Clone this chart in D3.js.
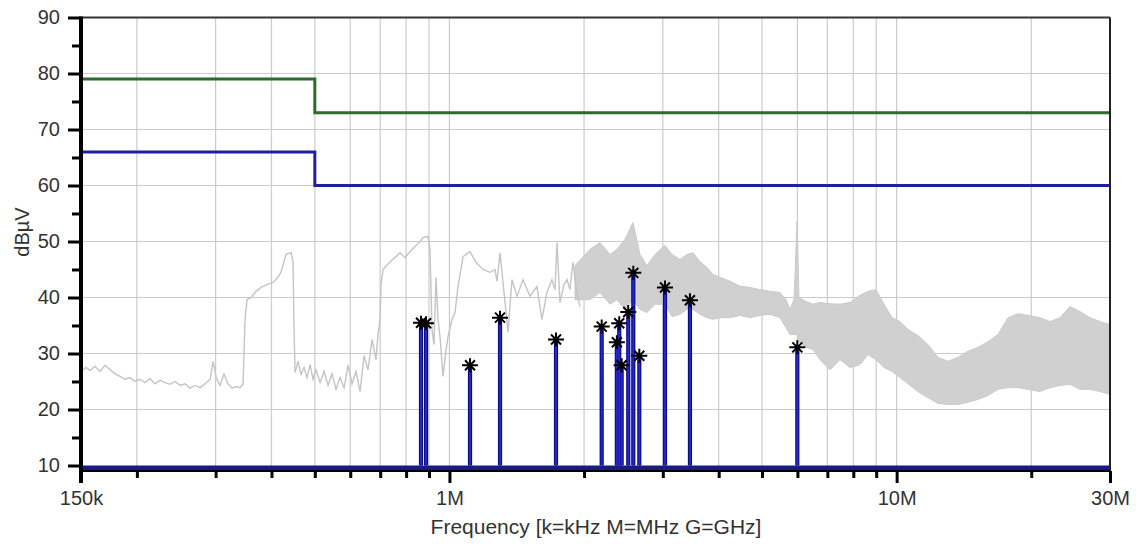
<!DOCTYPE html>
<html>
<head>
<meta charset="utf-8">
<script src="https://cdn.jsdelivr.net/npm/d3@7/dist/d3.min.js"></script>
<style>
html,body{margin:0;padding:0;background:#fff;}
svg{display:block;}
text{font-family:"Liberation Sans",Arial,sans-serif;fill:#333;}
</style>
</head>
<body>
<svg id="chart" width="1136" height="546"></svg>
<script>
// ---------- data (frequencies in kHz, levels in dBµV) ----------
const majorTicksKHz = [150, 1000, 10000, 30000];
const majorTickLabels = ["150k", "1M", "10M", "30M"];
const minorTicksKHz = [200,300,400,500,600,700,800,900,2000,3000,4000,5000,6000,7000,8000,9000,20000];
const levelTicks = [10,20,30,40,50,60,70,80,90];
const levelMinorTicks = [15,25,35,45,55,65,75,85];

// limit lines
const limitFreqKHz = [150, 500, 500, 30000];
const limitQuasiPeak = [79, 79, 73, 73];
const limitAverage = [66, 66, 60, 60];

// measured trace, low-frequency part (single line)
const traceFreqKHz = [150,153.9,157.1,161.2,165.4,169.7,174.2,178.7,183.4,188.2,193.1,198.1,203.3,208.6,214.0,219.6,225.4,231.3,237.3,243.5,249.8,256.4,263.1,269.9,277.0,284.2,291.6,296.2,300.8,306.8,313.2,319.7,326.4,333.3,340.2,345.5,349.1,352.7,360.0,369.4,379.0,390.9,403.2,413.7,420.2,426.7,431.1,442.4,446.9,449.3,451.6,458.6,465.8,473.0,480.4,487.9,495.5,503.2,513.7,524.3,535.2,546.4,557.7,569.3,581.2,593.3,605.6,618.2,631.1,644.2,657.6,671.3,685.2,692.3,699.5,703.1,710.4,736.5,759.6,775.4,795.6,816.3,841.9,859.4,872.8,895.5,904.8,914.1,923.6,933.2,942.8,952.6,967.4,982.5,992.7,1013.3,1029.1,1045.1,1072.4,1111.7,1146.6,1188.7,1232.3,1264.5,1277.5,1297.4,1317.6,1352.0,1379.8,1416.2,1460.5,1514,1569,1610,1652,1695,1722,1740,1767,1804,1832,1860,1889,1929,1959];
const traceLevel = [26.8,27.5,27.0,27.7,26.8,27.9,27.1,26.4,25.9,25.4,25.7,25.0,25.4,24.8,25.5,24.6,25.2,24.8,24.5,25.0,24.3,24.6,23.8,24.3,23.9,24.6,25.4,28.6,25.7,24.3,26.3,24.6,23.8,24.1,23.9,24.5,36.1,39.6,40.0,41.1,41.8,42.3,42.7,43.6,44.6,46.4,47.7,48.0,46.4,34.3,26.6,28.6,26.3,27.5,25.7,28.0,25.4,27.1,24.8,26.8,24.3,26.4,23.6,25.7,23.9,27.9,24.6,26.8,23.2,29.6,27.1,32.5,28.9,33.4,36.1,42.3,45.0,46.4,47.3,48.0,47.1,48.2,49.3,50.0,50.7,50.9,48.6,34.3,31.6,43.6,36.1,33.0,25.9,30.7,33.0,36.1,37.3,42.0,47.3,48.2,46.3,45.0,44.5,45.0,42.9,48.0,42.7,33.8,43.2,40.2,43.2,40.2,42.0,36.1,40.9,43.2,41.4,49.8,39.1,42.3,43.2,41.4,46.3,40.5,38.4];

// measured trace, high-frequency part (dense noise band: upper / lower envelope)
const bandFreqKHz = [1909,2062,2171,2286,2369,2469,2573,2667,2765,2882,3034,3145,3278,3398,3504,3633,3766,3884,4028,4241,4465,4700,4948,5210,5485,5657,5774,5895,5990,6049,6271,6501,6740,7096,7471,7866,8281,8630,8993,9372,9766,10177,10605,11158,11751,12375,13027,13714,14438,15202,16005,16851,17742,18678,19665,20918,22022,23186,24411,25701,27059,28488,30000];
const bandUpper = [45.7,48.6,49.8,47.7,48.6,50.4,53.4,47.7,45.7,47.7,49.3,47.7,46.8,47.7,48.0,46.4,45.4,44.1,43.6,42.9,42.0,41.8,41.4,41.1,40.9,39.6,37.9,39.6,53.6,40.0,39.3,38.8,39.1,38.9,38.8,39.1,40.4,41.1,41.4,38.8,36.4,35.7,34.3,33.2,31.6,29.3,28.6,29.3,30.4,31.1,32.1,33.4,36.4,37.1,36.8,36.4,35.7,36.4,38.4,37.5,36.4,35.7,35.2];
const bandLower = [39.6,39.6,40.9,38.8,39.6,37.9,39.6,37.9,37.3,38.8,38.8,36.6,37.0,37.9,37.9,37.0,36.4,36.1,36.4,36.4,36.8,36.4,36.8,37.0,36.4,34.6,33.4,33.4,33.4,32.1,31.1,30.7,28.9,27.1,28.9,27.5,28.0,29.8,28.9,27.5,26.8,25.7,24.6,23.2,22.1,21.1,20.9,20.9,21.3,21.8,22.5,23.6,23.9,23.9,23.6,23.2,23.9,24.3,24.5,23.6,23.6,23.2,22.7];

// final measurement markers
const markerFreqKHz = [863.8,886.5,1111.7,1297.4,1731,2190,2368,2397,2427,2511,2577,2658,3034,3450,5997];
const markerLevel = [35.5,35.4,27.9,36.4,32.5,34.8,32.0,35.4,27.9,37.4,44.4,29.6,41.8,39.5,31.1];
const stemBase = 10;

// ---------- drawing ----------
const svg = d3.select("#chart");
const L = 81, R = 1110, T = 17.5, B = 465.5, AX = 471;

const x = d3.scaleLog().domain([150e3, 30e6]).range([L, R]);
const y = d3.scaleLinear().domain([10, 90]).range([B, T]);
const fx = k => x(k * 1e3);

// gridlines
const grid = svg.append("g");
grid.selectAll("line.v").data(minorTicksKHz.concat([1000, 10000])).enter().append("line")
  .attr("x1", d => fx(d)).attr("x2", d => fx(d)).attr("y1", T).attr("y2", AX)
  .attr("stroke", "#cbcbcb").attr("stroke-width", 1.2);
grid.selectAll("line.h").data(levelTicks.filter(d => d > 10 && d < 90)).enter().append("line")
  .attr("x1", L).attr("x2", R).attr("y1", d => y(d)).attr("y2", d => y(d))
  .attr("stroke", "#cbcbcb").attr("stroke-width", 1.2);

// noise band
const band = bandFreqKHz.map((f, i) => ({f, hi: bandUpper[i], lo: bandLower[i]}));
svg.append("path").datum(band)
  .attr("d", d3.area().x(d => fx(d.f)).y0(d => y(d.lo)).y1(d => y(d.hi)))
  .attr("fill", "#d0d0d0").attr("stroke", "#cacaca").attr("stroke-width", 1);

// trace line
const trace = traceFreqKHz.map((f, i) => ({f, v: traceLevel[i]}));
svg.append("path").datum(trace)
  .attr("d", d3.line().x(d => fx(d.f)).y(d => y(d.v)))
  .attr("fill", "none").attr("stroke", "#c4c4c4").attr("stroke-width", 1.4);

// limit lines
const lim = (arr) => limitFreqKHz.map((f, i) => ({f, v: arr[i]}));
const limLine = d3.line().x(d => fx(d.f)).y(d => y(d.v));
svg.append("path").datum(lim(limitQuasiPeak)).attr("d", limLine)
  .attr("fill", "none").attr("stroke", "#2e6b2e").attr("stroke-width", 3);
svg.append("path").datum(lim(limitAverage)).attr("d", limLine)
  .attr("fill", "none").attr("stroke", "#1f1fa6").attr("stroke-width", 3);

// stems
const markers = markerFreqKHz.map((f, i) => ({f, v: markerLevel[i]}));
const stems = svg.append("g");
stems.selectAll("line.o").data(markers).enter().append("line")
  .attr("x1", d => fx(d.f)).attr("x2", d => fx(d.f))
  .attr("y1", y(stemBase)).attr("y2", d => y(d.v))
  .attr("stroke", "#0c0c80").attr("stroke-width", 4.2);
stems.selectAll("line.i").data(markers).enter().append("line")
  .attr("x1", d => fx(d.f)).attr("x2", d => fx(d.f))
  .attr("y1", y(stemBase)).attr("y2", d => y(d.v))
  .attr("stroke", "#2626cc").attr("stroke-width", 2);

// baseline
svg.append("line").attr("x1", L).attr("x2", R)
  .attr("y1", y(stemBase) + 3).attr("y2", y(stemBase) + 3)
  .attr("stroke", "#1a1a86").attr("stroke-width", 6);

// asterisk markers
const star = "M-8,0L8,0M0,-7L0,7M-5,-5L5,5M-5,5L5,-5";
svg.append("g").selectAll("path").data(markers).enter().append("path")
  .attr("transform", d => `translate(${fx(d.f)},${y(d.v)})`)
  .attr("d", star).attr("stroke", "#000").attr("stroke-width", 2).attr("fill", "none");

// frame
svg.append("line").attr("x1", L).attr("x2", R).attr("y1", T).attr("y2", T)
  .attr("stroke", "#333").attr("stroke-width", 2);
svg.append("line").attr("x1", R).attr("x2", R).attr("y1", T).attr("y2", AX)
  .attr("stroke", "#222").attr("stroke-width", 2);

// x axis
const xAxisG = svg.append("g").attr("transform", `translate(0,${AX})`);
xAxisG.append("line").attr("x1", L).attr("x2", R).attr("stroke", "#000").attr("stroke-width", 2);
xAxisG.call(g => {
  const minor = d3.axisBottom(x).tickValues(minorTicksKHz.map(d => d * 1e3)).tickSize(7).tickFormat("");
  const mg = g.append("g").call(minor);
  mg.select(".domain").remove();
  mg.selectAll("line").attr("stroke", "#000").attr("stroke-width", 3);
  const major = d3.axisBottom(x).tickValues(majorTicksKHz.map(d => d * 1e3)).tickSize(12)
    .tickFormat((d, i) => majorTickLabels[i]).tickPadding(8);
  const jg = g.append("g").call(major);
  jg.select(".domain").remove();
  jg.selectAll("line").attr("stroke", "#000").attr("stroke-width", 3);
  jg.selectAll("text").attr("font-size", 20).attr("fill", "#333")
    .attr("font-family", "Liberation Sans, Arial, sans-serif");
});

// y axis
const yAxisG = svg.append("g").attr("transform", `translate(${L},0)`);
yAxisG.append("line").attr("y1", T - 1).attr("y2", 483).attr("stroke", "#000").attr("stroke-width", 4);
yAxisG.call(g => {
  const minor = d3.axisLeft(y).tickValues(levelMinorTicks).tickSize(9).tickFormat("");
  const mg = g.append("g").call(minor);
  mg.select(".domain").remove();
  mg.selectAll("line").attr("stroke", "#000").attr("stroke-width", 3);
  const major = d3.axisLeft(y).tickValues(levelTicks).tickSize(13).tickPadding(8);
  const jg = g.append("g").call(major);
  jg.select(".domain").remove();
  jg.selectAll("line").attr("stroke", "#000").attr("stroke-width", 3);
  jg.selectAll("text").attr("font-size", 20).attr("fill", "#333")
    .attr("font-family", "Liberation Sans, Arial, sans-serif");
});

// axis titles
svg.append("text").attr("x", 596).attr("y", 534).attr("text-anchor", "middle")
  .attr("font-size", 21).text("Frequency [k=kHz M=MHz G=GHz]");
svg.append("text").attr("transform", "translate(29,232) rotate(-90)").attr("text-anchor", "middle")
  .attr("font-size", 20).text("dBµV");
</script>
</body>
</html>
